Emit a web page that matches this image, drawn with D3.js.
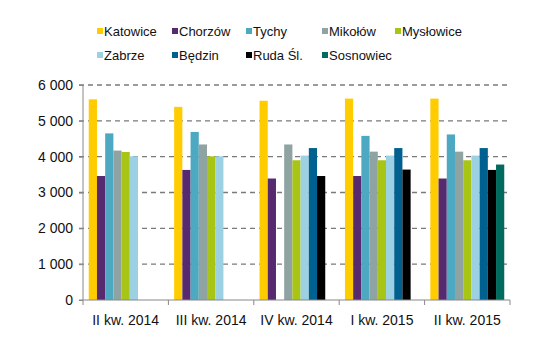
<!DOCTYPE html>
<html><head><meta charset="utf-8">
<script src="https://cdn.jsdelivr.net/npm/d3@7"></script>
<style>body{margin:0;background:#fff}svg{display:block;font-family:"Liberation Sans",Arial,sans-serif}</style>
</head><body><svg id="c" width="534" height="348"></svg>
<script>
const categories = ["II kw. 2014","III kw. 2014","IV kw. 2014","I kw. 2015","II kw. 2015"];
const seriesNames = ["Katowice","Chorzów","Tychy","Mikołów","Mysłowice","Zabrze","Będzin","Ruda Śl.","Sosnowiec"];
const colors = ["#FFCC00","#57296F","#4DA9C1","#8FA3A2","#A8C515","#9CD0E3","#00608F","#000000","#006B5E"];
const katowice  = [5600,5390,5560,5620,5620];
const chorzow   = [3460,3630,3390,3460,3390];
const tychy     = [4650,4690,null,4580,4620];
const mikolow   = [4170,4340,4340,4140,4140];
const myslowice = [4130,4010,3900,3900,3900];
const zabrze    = [4010,4010,4030,4030,4030];
const bedzin    = [null,null,4240,4240,4240];
const ruda      = [null,null,3460,3640,3630];
const sosnowiec = [null,null,null,null,3780];
const yTicks = [0,1000,2000,3000,4000,5000,6000];
const values = [katowice,chorzow,tychy,mikolow,myslowice,zabrze,bedzin,ruda,sosnowiec];

const svg = d3.select("#c");
const L=83,R=510,T=85,B=300;
const x0 = d3.scaleBand().domain(categories).range([L,R]);
const x1 = d3.scaleBand().domain(seriesNames).range([0,x0.bandwidth()]).paddingOuter(0.7);
const y = d3.scaleLinear().domain([0,6000]).range([B,T]);
const fmt = v => d3.format(",")(v).replace(/,/g," ");

// gridlines
svg.append("g").selectAll("line").data(yTicks.filter(v=>v>0)).join("line")
  .attr("x1",L-4).attr("x2",R).attr("y1",d=>y(d)).attr("y2",d=>y(d))
  .attr("stroke","#7a7a7a").attr("stroke-width",1.3).attr("stroke-dasharray","5,4");

// bars
const data=[];
categories.forEach((c,i)=>seriesNames.forEach((s,j)=>{ if(values[j][i]!=null) data.push({c,s,v:values[j][i],col:colors[j]}); }));
svg.append("g").selectAll("rect").data(data).join("rect")
  .attr("x",d=>x0(d.c)+x1(d.s)).attr("width",x1.bandwidth())
  .attr("y",d=>y(d.v)).attr("height",d=>B-y(d.v)).attr("fill",d=>d.col);

// y axis
const ya = svg.append("g").attr("transform",`translate(${L},0)`)
  .call(d3.axisLeft(y).tickValues(yTicks).tickFormat(fmt).tickSize(4).tickPadding(6));
ya.selectAll("text").attr("font-size",14).attr("fill","#111").attr("font-family","Liberation Sans, Arial");
ya.selectAll("line,path").attr("stroke","#888");
ya.select("path").attr("d",`M0,${T}V${B}`);

// x axis
const xa = svg.append("g").attr("transform",`translate(0,${B})`);
xa.append("line").attr("x1",L-4).attr("x2",R).attr("stroke","#888");
const bounds = categories.map(c=>x0(c)).concat([R]);
xa.selectAll("line.t").data(bounds).join("line").attr("class","t")
  .attr("x1",d=>d).attr("x2",d=>d).attr("y1",0).attr("y2",5).attr("stroke","#888");
xa.selectAll("text").data(categories).join("text")
  .attr("x",d=>x0(d)+x0.bandwidth()/2).attr("y",25).attr("text-anchor","middle")
  .attr("font-size",14).attr("fill","#111").text(d=>d);

// legend
const legX = [97,172,246,322,395];
const lg = svg.append("g");
seriesNames.forEach((s,i)=>{
  const row = i<5?0:1, col = i<5?i:i-5;
  const g = lg.append("g").attr("transform",`translate(${legX[col]},${row?55:31})`);
  g.append("rect").attr("x",0).attr("y",-3).attr("width",6).attr("height",6).attr("fill",colors[i]);
  g.append("text").attr("x",7).attr("y",5).attr("font-size",13).attr("fill","#111").text(s);
});
</script></body></html>
